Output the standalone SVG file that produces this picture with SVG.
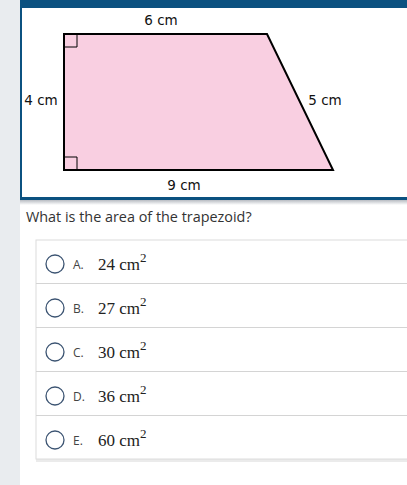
<svg xmlns="http://www.w3.org/2000/svg" width="407" height="485" viewBox="0 0 407 485">
<style>
.lbl{font-family:"DejaVu Sans","Open Sans",sans-serif;font-size:13.5px;fill:#111;}
.q{font-family:"Open Sans",sans-serif;font-size:14.4px;fill:#333;}
.let{font-family:"Open Sans",sans-serif;font-size:12px;fill:#444;}
.val{font-family:"Liberation Serif","Times New Roman",serif;font-size:17px;fill:#222;}
.sup{font-family:"Liberation Serif",serif;font-size:13px;fill:#222;}
.rad{fill:#fff;stroke:#3c5472;stroke-width:1.3;}
.sep{stroke:#d4d4d4;stroke-width:1;}
</style>
<defs>
<linearGradient id="sh" x1="0" y1="0" x2="0" y2="1">
<stop offset="0" stop-color="#b8bcc2"/>
<stop offset="1" stop-color="#ffffff"/>
</linearGradient>
</defs>
<rect x="0" y="0" width="407" height="485" fill="#ffffff"/>
<rect x="0" y="0" width="20" height="485" fill="#e9ecef"/>
<g id="panel">
<rect x="20" y="0" width="387" height="200" fill="#0b5180"/>
<rect x="22" y="8" width="385" height="189" fill="#ffffff"/>
<rect x="20" y="200" width="387" height="5" fill="url(#sh)"/>
</g>
<g id="trapezoid">
<polygon points="64,34 267,34 333,170 64,170" fill="#f9cfe1" stroke="#000" stroke-width="2" stroke-linejoin="miter"/>
<path d="M64,47 H77 V34 M64,157 H77 V170" fill="none" stroke="#000" stroke-width="1"/>
</g>
<g id="labels">
<text class="lbl" x="161" y="25" text-anchor="middle">6 cm</text>
<text class="lbl" x="41" y="105" text-anchor="middle">4 cm</text>
<text class="lbl" x="325" y="105" text-anchor="middle">5 cm</text>
<text class="lbl" x="184" y="190" text-anchor="middle">9 cm</text>
</g>
<text class="q" x="26" y="222">What is the area of the trapezoid?</text>
<g id="options">
<rect x="36" y="260" width="371" height="202" fill="#d8d8d8" opacity="0.5"/>
<rect x="36" y="240" width="372" height="219" fill="#fff" stroke="#dcdcdc" stroke-width="1"/>
<line class="sep" x1="36" y1="283.5" x2="407" y2="283.5"/>
<line class="sep" x1="36" y1="327.5" x2="407" y2="327.5"/>
<line class="sep" x1="36" y1="371.5" x2="407" y2="371.5"/>
<line class="sep" x1="36" y1="415.5" x2="407" y2="415.5"/>
<g id="optA">
<circle class="rad" cx="55" cy="264" r="9"/>
<text class="let" x="73" y="269">A.</text>
<text class="val" x="98" y="270">24 cm<tspan class="sup" dy="-8">2</tspan></text>
</g>
<g id="optB">
<circle class="rad" cx="55" cy="308" r="9"/>
<text class="let" x="73" y="313">B.</text>
<text class="val" x="98" y="314">27 cm<tspan class="sup" dy="-8">2</tspan></text>
</g>
<g id="optC">
<circle class="rad" cx="55" cy="352" r="9"/>
<text class="let" x="73" y="357">C.</text>
<text class="val" x="98" y="358">30 cm<tspan class="sup" dy="-8">2</tspan></text>
</g>
<g id="optD">
<circle class="rad" cx="55" cy="396" r="9"/>
<text class="let" x="73" y="401">D.</text>
<text class="val" x="98" y="402">36 cm<tspan class="sup" dy="-8">2</tspan></text>
</g>
<g id="optE">
<circle class="rad" cx="55" cy="440" r="9"/>
<text class="let" x="73" y="445">E.</text>
<text class="val" x="98" y="446">60 cm<tspan class="sup" dy="-8">2</tspan></text>
</g>
</g>
</svg>
